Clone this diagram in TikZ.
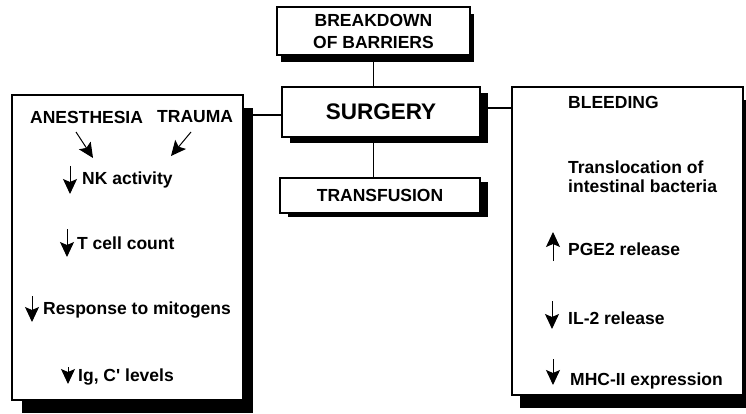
\documentclass[tikz,border=0pt]{standalone}
\usepackage{fontspec}
\setmainfont{Liberation Sans}
\usetikzlibrary{arrows.meta,shadows}

\begin{document}
\begin{tikzpicture}[x=1pt, y=-1pt,
  box/.style={draw, line width=1.6pt, fill=white, align=center, inner sep=0pt},
  shd/.style 2 args={drop shadow={shadow xshift=#1, shadow yshift=#2, opacity=1, fill=black}},
  lbl/.style={font=\bfseries\fontsize{17.5}{19}\selectfont, inner sep=0pt, anchor=west, align=left},
  arr/.style={line width=1pt, arrows={-Stealth[length=15pt, width=14pt, inset=3pt]}}]
\useasboundingbox (0,0) rectangle (746,414);
% boxes
\node[box, shd={4pt}{-7pt}, minimum width=193pt, minimum height=48pt, font=\bfseries\fontsize{17.5}{22}\selectfont] (brk) at (373.5,31) {BREAKDOWN\\OF BARRIERS};
\node[box, shd={8pt}{-6pt}, minimum width=198pt, minimum height=50pt, font=\bfseries\fontsize{22.5}{24}\selectfont] (surg) at (381,112) {SURGERY};
\node[box, shd={8pt}{-4pt}, minimum width=200pt, minimum height=35pt, font=\bfseries\fontsize{17.5}{20}\selectfont] (trf) at (380,195.5) {TRANSFUSION};
\node[box, shd={10pt}{-13pt}, minimum width=231pt, minimum height=305pt] (lft) at (127.5,247.5) {};
\node[box, shd={8pt}{-13pt}, minimum width=231pt, minimum height=308pt] (rgt) at (627.5,241) {};
% links
\draw[line width=1.5pt] (brk.south) -- (brk.south |- surg.north);
\draw[line width=1.5pt] (brk.south |- surg.south) -- (brk.south |- trf.north);
\draw[line width=1.5pt] ([yshift=-3pt]surg.west) -- ([yshift=-3pt]surg.west -| lft.east);
\draw[line width=1.5pt] ([yshift=4pt]surg.east) -- ([yshift=4pt]surg.east -| rgt.west);
% left panel
\node[lbl] (ane) at (30,117) {ANESTHESIA};
\node[lbl] (tra) at (157,117) {TRAUMA};
\coordinate (a1) at (76,132); \coordinate (a2) at (93,158);
\coordinate (b1) at (191,132); \coordinate (b2) at (171,156);
\draw[arr] (a1) -- (a2); \draw[arr] (b1) -- (b2);
\node[lbl] (nk) at (82,180) {NK activity};
\node[lbl] (tc) at (77,243) {T cell count};
\node[lbl] (rm) at (43,310) {Response to mitogens};
\node[lbl] (ig) at (78,377) {Ig, C{\addfontfeature{Ligatures=TeXOff}'} levels};
\draw[arr] (70,166) -- (70,194); \draw[arr] (67,229) -- (67,257);
\draw[arr] (32,296) -- (32,322); \draw[arr] (68,367) -- (68,384);
% right panel
\node[lbl] (bld) at (568,102) {BLEEDING};
\node[lbl] (trl) at (568,176.5) {Translocation of\\intestinal bacteria};
\node[lbl] (pge) at (568,249) {PGE2 release};
\node[lbl] (il) at (568,318) {IL-2 release};
\node[lbl] (mhc) at (570,381) {MHC-II expression};
\draw[arr] (553,261) -- (553,232); \draw[arr] (552,301) -- (552,329);
\draw[arr] (553,359) -- (553,385);
\end{tikzpicture}
\end{document}
